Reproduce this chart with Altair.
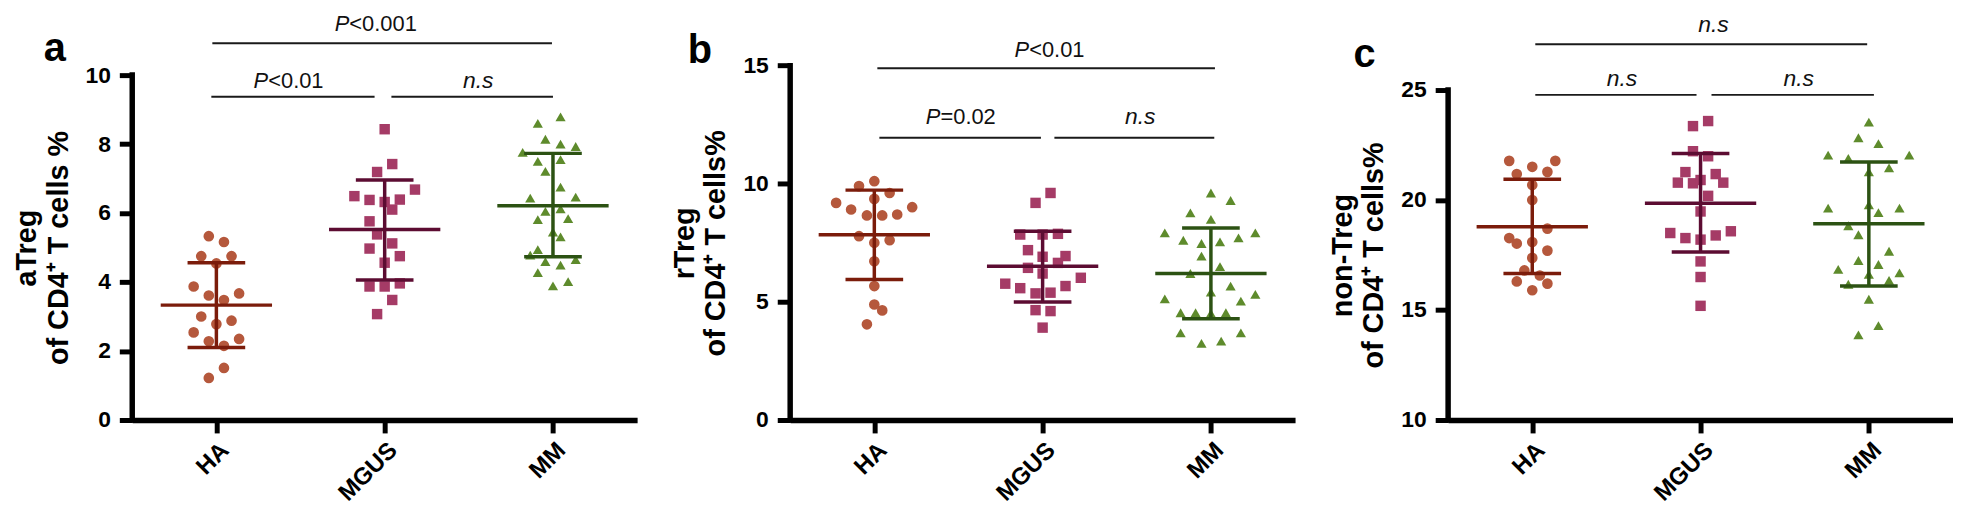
import json
import altair as alt
import pandas as pd

FONT = "Liberation Sans"
GROUPS = ["HA", "MGUS", "MM"]
POINT_COLORS = ["#b5583c", "#a53b66", "#5e8b2c"]
LINE_COLORS = ["#7b1c0b", "#5c0c32", "#2c5213"]
SHAPES = ["circle", "square", "triangle-up"]
SIZES = [115, 105, 150]

# ---------------- panel a : aTreg ----------------
a_ha_val = [5.33, 5.16, 4.75, 4.75, 4.54, 3.87, 3.61, 3.67, 3.48, 3.00, 2.88, 2.78, 2.54, 2.28, 2.35, 2.15, 1.51, 1.22]
a_ha_dx = [-0.045, 0.045, -0.09, 0.09, 0, -0.135, -0.045, 0.135, 0.045, -0.09, 0.09, 0, -0.135, -0.045, 0.135, 0.045, 0.045, -0.045]
a_mgus_val = [8.43, 7.42, 7.19, 6.49, 6.68, 6.38, 6.32, 6.39, 6.10, 5.76, 5.38, 4.97, 5.12, 4.75, 4.56, 3.87, 3.87, 3.96, 3.48, 3.07]
a_mgus_dx = [0, 0.045, -0.045, -0.18, 0.18, -0.09, 0, 0.09, 0.045, -0.09, -0.045, -0.09, 0.045, 0.09, 0, -0.09, 0, 0.09, 0.045, -0.045]
a_mm_val = [8.79, 8.60, 8.14, 8.00, 7.93, 7.76, 7.50, 7.55, 7.21, 6.75, 6.43, 6.46, 6.05, 6.12, 5.84, 5.81, 5.45, 5.31, 4.94, 4.78, 4.59, 4.49, 4.65, 4.27, 4.01, 3.89]
a_mm_dx = [0.045, -0.09, -0.045, 0.045, 0.135, -0.18, -0.09, 0.045, -0.045, 0.045, -0.135, 0.135, -0.045, 0.045, 0.09, -0.09, 0, 0.045, -0.09, -0.135, -0.045, 0.045, 0.135, -0.09, 0.09, 0]
a_mean = [3.33, 5.52, 6.21]
a_lo = [2.10, 4.06, 4.73]
a_hi = [4.56, 6.96, 7.73]
a_ticks = [0, 2, 4, 6, 8, 10]
a_domain = [0, 11.90]
a_title = ["aTreg", "of CD4⁺ T cells %"]
a_br_x1 = [-0.024, -0.03, 1.04]
a_br_x2 = [1.994, 0.94, 2.0]
a_br_y = [10.92, 9.37, 9.37]
a_p_x = [0.79, 0.308]
a_p_y = [11.27, 9.63]
a_p_rest = ["<0.001", "<0.01"]
a_ns_x = [1.556]
a_ns_y = [9.63]
a_letter = ["a", -0.96, 10.40]

# ---------------- panel b : rTreg ----------------
b_ha_val = [10.11, 9.90, 9.61, 9.36, 9.19, 9.01, 8.91, 8.66, 8.66, 8.70, 7.78, 7.61, 7.50, 6.72, 5.67, 4.89, 4.64, 4.05]
b_ha_dx = [0, -0.091, 0.091, 0, -0.227, 0.225, -0.138, -0.044, 0.047, 0.136, -0.091, 0.091, 0, 0, 0, 0, 0.047, -0.044]
b_mgus_val = [9.61, 9.19, 7.85, 7.85, 7.88, 7.19, 6.91, 6.94, 6.65, 6.44, 6.20, 6.02, 5.77, 5.58, 5.67, 5.36, 5.39, 4.65, 4.61, 3.91]
b_mgus_dx = [0.047, -0.042, -0.133, 0, 0.091, -0.087, 0, 0.136, 0.091, -0.087, 0, 0.227, -0.222, -0.133, 0.136, -0.042, 0.047, -0.042, 0.047, 0]
b_mm_val = [9.61, 9.29, 8.77, 8.49, 7.92, 7.61, 7.71, 7.92, 7.47, 7.54, 6.94, 6.49, 6.20, 5.67, 5.41, 5.32, 5.13, 5.03, 4.54, 4.54, 4.51, 4.54, 3.69, 3.69, 3.24, 3.34]
b_mm_dx = [0, 0.117, -0.122, 0, -0.274, -0.164, 0.164, 0.264, -0.056, 0.054, -0.056, 0.054, -0.122, 0.117, 0, 0.264, -0.274, 0.178, -0.18, -0.091, 0, 0.089, -0.18, 0.178, -0.056, 0.061]
b_mean = [7.84, 6.51, 6.20]
b_lo = [5.95, 4.99, 4.29]
b_hi = [9.73, 7.99, 8.13]
b_ticks = [0, 5, 10, 15]
b_domain = [0, 17.375]
b_title = ["rTreg", "of CD4⁺ T cells%"]
b_br_x1 = [0.018, 0.03, 1.07]
b_br_x2 = [2.024, 0.99, 2.02]
b_br_y = [14.89, 11.95, 11.95]
b_p_x = [0.92, 0.393]
b_p_y = [15.36, 12.54]
b_p_rest = ["<0.01", "=0.02"]
b_ns_x = [1.58]
b_ns_y = [12.54]
b_letter = ["b", -1.036, 15.10]

# ---------------- panel c : non-Treg ----------------
c_ha_val = [21.78, 21.78, 21.51, 21.18, 21.28, 20.68, 20.00, 18.70, 18.27, 18.02, 18.09, 17.70, 17.37, 16.80, 16.57, 16.30, 16.20, 15.90]
c_ha_dx = [-0.137, 0.137, 0, -0.092, 0.09, 0, 0, 0.09, -0.137, -0.092, 0, 0.09, 0, -0.047, 0.045, -0.092, 0.09, 0]
c_mgus_val = [23.59, 23.36, 22.22, 21.99, 21.27, 21.18, 20.79, 20.76, 20.91, 20.79, 20.19, 19.48, 18.50, 18.27, 18.20, 18.39, 18.58, 17.21, 16.50, 15.19]
c_mgus_dx = [0.045, -0.045, -0.045, 0.045, -0.09, 0.09, -0.135, -0.045, 0, 0.135, 0.045, 0, -0.18, -0.09, 0, 0.09, 0.18, 0, 0, 0]
c_mm_val = [23.54, 22.83, 22.56, 22.04, 22.04, 21.89, 21.46, 21.28, 19.63, 19.78, 19.63, 19.43, 18.83, 18.42, 17.67, 17.25, 17.07, 16.85, 16.62, 16.69, 16.17, 16.35, 15.49, 14.29, 13.87]
c_mm_dx = [0, -0.062, 0.057, -0.242, 0.24, -0.122, 0.12, 0, -0.242, 0, 0.182, 0.057, -0.122, -0.062, 0.12, -0.062, 0.057, -0.182, 0, 0.182, -0.122, 0.12, 0, 0.057, -0.062]
c_mean = [18.79, 19.85, 18.92]
c_lo = [16.66, 17.64, 16.09]
c_hi = [20.94, 22.11, 21.73]
c_ticks = [10, 15, 20, 25]
c_domain = [10, 28.66]
c_title = ["non-Treg", "of CD4⁺ T cells%"]
c_br_x1 = [0.018, 0.018, 1.065]
c_br_x2 = [1.99, 0.976, 2.03]
c_br_y = [27.08, 24.78, 24.78]
c_p_x = []
c_p_y = []
c_p_rest = []
c_ns_x = [1.077, 0.533, 1.583]
c_ns_y = [27.62, 25.18, 25.18]
c_letter = ["c", -0.997, 26.04]

PANEL_W = 508
PANEL_H = 413


def make_panel(vals, dxs, mean, lo, hi, ticks, domain, title,
               br_x1, br_x2, br_y, p_x, p_y, p_rest, ns_x, ns_y, letter):
    rows = []
    for gi, (vv, dd) in enumerate(zip(vals, dxs)):
        for v, d in zip(vv, dd):
            rows.append({"group": GROUPS[gi], "x": gi + d, "y": v})
    pts = pd.DataFrame(rows)
    summ = pd.DataFrame({"group": GROUPS, "x": [0, 1, 2], "mean": mean, "lo": lo, "hi": hi})
    axis_df = pd.DataFrame({"x": [-0.5], "y": [domain[0]], "y2": [ticks[-1]]})
    br = pd.DataFrame({"x": br_x1, "x2": br_x2, "y": br_y})
    pdf = pd.DataFrame({"x": p_x, "y": p_y, "rest": p_rest})
    nsdf = pd.DataFrame({"x": ns_x, "y": ns_y, "t": ["n.s"] * len(ns_x)})
    ldf = pd.DataFrame({"t": [letter[0]], "x": [letter[1]], "y": [letter[2]]})

    mid = (ticks[0] + ticks[-1]) / 2
    title_y = PANEL_H * (domain[1] - mid) / (domain[1] - domain[0])

    xscale = alt.Scale(domain=[-0.5, 2.5], nice=False, zero=False)
    yscale = alt.Scale(domain=domain, nice=False, zero=False)
    xaxis = alt.Axis(values=[0, 1, 2], labelExpr=json.dumps(GROUPS) + "[datum.value]",
                     title=None, grid=False, domainWidth=5.5, domainColor="black",
                     tickWidth=5, tickSize=13, tickColor="black",
                     labelAngle=315, labelAlign="right", labelBaseline="top",
                     labelFont=FONT, labelFontSize=24, labelFontWeight="bold",
                     labelColor="black", labelPadding=5)
    yaxis = alt.Axis(values=ticks, domain=False, grid=False, tickWidth=5, tickSize=13,
                     tickColor="black", labelFont=FONT, labelFontSize=23,
                     labelFontWeight="bold", labelColor="black", labelPadding=9,
                     title=title, titleFont=FONT, titleFontSize=29, titleFontWeight="bold",
                     titleColor="black", titleLineHeight=32, titlePadding=12, titleY=title_y)

    def X(f):
        return alt.X(f, type="quantitative", scale=xscale, axis=xaxis)

    def Y(f):
        return alt.Y(f, type="quantitative", scale=yscale, axis=yaxis)

    axis_line = alt.Chart(axis_df).mark_rule(strokeWidth=5.5, color="black", strokeCap="square").encode(
        x=X("x"), y=Y("y"), y2="y2")
    points = alt.Chart(pts).mark_point(filled=True, opacity=1, strokeWidth=0).encode(
        x=X("x"), y=Y("y"),
        color=alt.Color("group:N", scale=alt.Scale(domain=GROUPS, range=POINT_COLORS), legend=None),
        shape=alt.Shape("group:N", scale=alt.Scale(domain=GROUPS, range=SHAPES), legend=None),
        size=alt.Size("group:N", scale=alt.Scale(domain=GROUPS, range=SIZES), legend=None))
    lcolor = alt.Color("group:N", scale=alt.Scale(domain=GROUPS, range=LINE_COLORS), legend=None)
    vline = alt.Chart(summ).mark_rule(strokeWidth=3.5).encode(x=X("x"), y=Y("lo"), y2="hi", color=lcolor)
    mline = alt.Chart(summ).mark_tick(orient="horizontal", size=112, thickness=3.5, opacity=1).encode(
        x=X("x"), y=Y("mean"), color=lcolor)
    caps = alt.Chart(summ).transform_fold(["lo", "hi"], as_=["k", "v"]).mark_tick(
        orient="horizontal", size=58, thickness=3.5, opacity=1).encode(x=X("x"), y=Y("v:Q"), color=lcolor)
    brackets = alt.Chart(br).mark_rule(strokeWidth=2, color="#1a1a1a").encode(x=X("x"), x2="x2", y=Y("y"))
    layers = [axis_line, points, vline, mline, caps, brackets]
    if len(p_x):
        p1 = alt.Chart(pdf).mark_text(text="P", align="right", baseline="alphabetic", font=FONT,
                                      fontSize=22, fontStyle="italic", color="#111").encode(x=X("x"), y=Y("y"))
        p2 = alt.Chart(pdf).mark_text(align="left", baseline="alphabetic", font=FONT,
                                      fontSize=22, color="#111").encode(x=X("x"), y=Y("y"), text="rest:N")
        layers += [p1, p2]
    ns = alt.Chart(nsdf).mark_text(align="center", baseline="alphabetic", font=FONT, fontSize=23,
                                   fontStyle="italic", color="#111").encode(x=X("x"), y=Y("y"), text="t:N")
    let = alt.Chart(ldf).mark_text(align="center", baseline="alphabetic", font=FONT, fontSize=40,
                                   fontWeight="bold", color="black").encode(x=X("x"), y=Y("y"), text="t:N")
    layers += [ns, let]
    return alt.layer(*layers).resolve_scale(color="independent", shape="independent",
                                            size="independent").properties(width=PANEL_W, height=PANEL_H)


pa = make_panel([a_ha_val, a_mgus_val, a_mm_val], [a_ha_dx, a_mgus_dx, a_mm_dx], a_mean, a_lo, a_hi,
                a_ticks, a_domain, a_title, a_br_x1, a_br_x2, a_br_y, a_p_x, a_p_y, a_p_rest,
                a_ns_x, a_ns_y, a_letter)
pb = make_panel([b_ha_val, b_mgus_val, b_mm_val], [b_ha_dx, b_mgus_dx, b_mm_dx], b_mean, b_lo, b_hi,
                b_ticks, b_domain, b_title, b_br_x1, b_br_x2, b_br_y, b_p_x, b_p_y, b_p_rest,
                b_ns_x, b_ns_y, b_letter)
pc = make_panel([c_ha_val, c_mgus_val, c_mm_val], [c_ha_dx, c_mgus_dx, c_mm_dx], c_mean, c_lo, c_hi,
                c_ticks, c_domain, c_title, c_br_x1, c_br_x2, c_br_y, c_p_x, c_p_y, c_p_rest,
                c_ns_x, c_ns_y, c_letter)

chart = alt.hconcat(pa, pb, pc, spacing=154, bounds="flush").resolve_scale(
    x="independent", y="independent", color="independent", shape="independent", size="independent"
).properties(
    padding={"left": 4, "top": 0, "right": 0, "bottom": 0},
    background="white",
).configure_view(strokeWidth=0)

chart.save("out.html", embed_options={"renderer": "svg", "actions": False})
